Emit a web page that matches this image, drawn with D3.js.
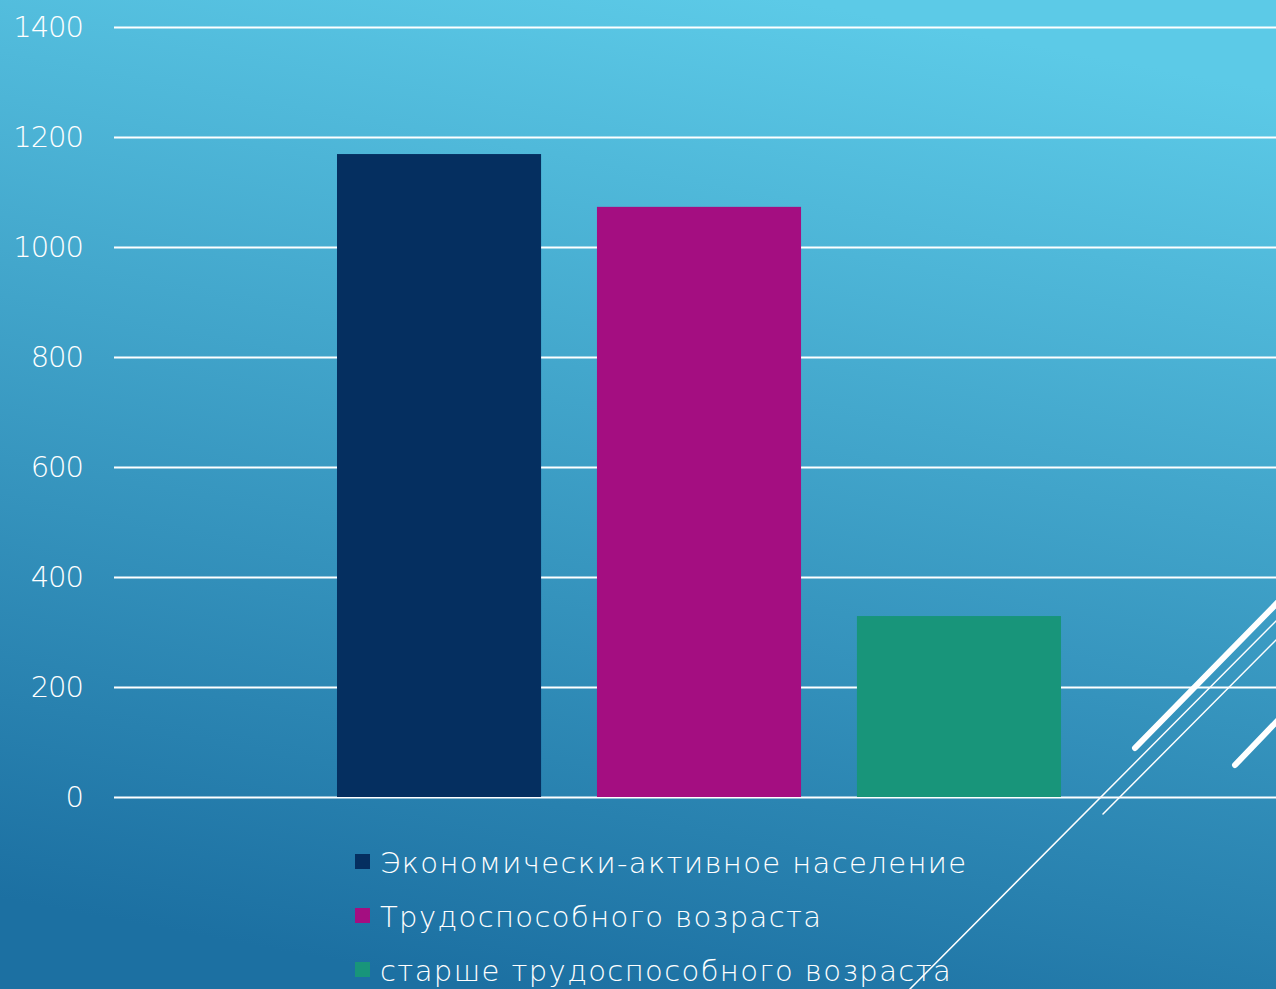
<!DOCTYPE html>
<html>
<head>
<meta charset="utf-8">
<script src="https://cdn.jsdelivr.net/npm/d3@7"></script>
<style>
  html, body { margin: 0; padding: 0; overflow: hidden; }
  svg { display: block; }
</style>
</head>
<body>
<svg id="chart" width="1276" height="989"></svg>
<script>
// данные
let categories = [""];
let series = ["Экономически-активное население", "Трудоспособного возраста", "старше трудоспособного возраста"];
let values = [1169, 1073, 329];
let colors = ["#052f60", "#a40e81", "#18957a"];
let yTicks = [0, 200, 400, 600, 800, 1000, 1200, 1400];

let width = 1276, height = 989;
let margin = {top: 27, left: 114, right: -8, bottom: 192};
let svg = d3.select('#chart');

// фон
let defs = svg.append("defs");
let grad = defs.append("linearGradient")
    .attr("id", "bg")
    .attr("x1", "0.62").attr("y1", "0")
    .attr("x2", "0.38").attr("y2", "1");
grad.append("stop").attr("offset", "0").attr("stop-color", "#5ccae7");
grad.append("stop").attr("offset", "1").attr("stop-color", "#1c70a2");
svg.append("rect").attr("width", width).attr("height", height).attr("fill", "url(#bg)");

let plotW = width - margin.left - margin.right;
let plotH = height - margin.top - margin.bottom;

let y = d3.scaleLinear().domain([0, 1400]).range([margin.top + plotH, margin.top]);
let x0 = d3.scaleBand().domain(categories).range([margin.left, margin.left + plotW]).paddingOuter(0.308).paddingInner(0);
let x1 = d3.scaleBand().domain(series).range([0, x0.bandwidth()]).paddingInner(0.215).paddingOuter(0);

let font = "'DejaVu Sans ExtraLight', 'DejaVu Sans Light', 'DejaVu Sans', sans-serif";

// сетка
let yAxis = d3.axisLeft(y).tickValues(yTicks).tickFormat(d3.format("d")).tickSize(-(plotW)).tickPadding(31);
let ga = svg.append("g")
    .attr("transform", "translate(" + margin.left + ",0)")
    .call(yAxis);
ga.select(".domain").remove();
ga.selectAll(".tick line").attr("stroke", "#ffffff").attr("stroke-width", 2);
ga.selectAll(".tick text")
    .attr("fill", "#ffffff")
    .style("font-family", font)
    .style("font-weight", 200)
    .style("font-size", "29px")
    .style("letter-spacing", "-1px");

// столбцы
svg.append("g").selectAll("rect")
    .data(series)
    .enter().append("rect")
    .attr("x", (d) => x0(categories[0]) + x1(d))
    .attr("width", x1.bandwidth())
    .attr("y", (d, i) => y(values[i]))
    .attr("height", (d, i) => y(0) - y(values[i]))
    .attr("fill", (d, i) => colors[i]);

// легенда
let legend = svg.append("g").attr("transform", "translate(355,862)");
let items = legend.selectAll("g")
    .data(series)
    .enter().append("g")
    .attr("transform", (d, i) => "translate(0," + i * 54 + ")");
items.append("rect")
    .attr("x", 0).attr("y", -8)
    .attr("width", 15).attr("height", 15)
    .attr("fill", (d, i) => colors[i]);
items.append("text")
    .attr("x", 25).attr("y", 11)
    .attr("fill", "#ffffff")
    .style("font-family", font)
    .style("font-weight", 200)
    .style("font-size", "29px")
    .style("letter-spacing", "1.4px")
    .text((d) => d);

// декоративные линии
let deco = svg.append("g").attr("stroke", "#ffffff").attr("stroke-linecap", "round");
deco.append("line").attr("x1", 907).attr("y1", 992).attr("x2", 1280).attr("y2", 617).attr("stroke-width", 1.5);
deco.append("line").attr("x1", 1103).attr("y1", 814).attr("x2", 1280).attr("y2", 636).attr("stroke-width", 1.5);
deco.append("line").attr("x1", 1135).attr("y1", 748).attr("x2", 1282).attr("y2", 598).attr("stroke-width", 6);
deco.append("line").attr("x1", 1235).attr("y1", 765).attr("x2", 1282).attr("y2", 716).attr("stroke-width", 6);
</script>
</body>
</html>
